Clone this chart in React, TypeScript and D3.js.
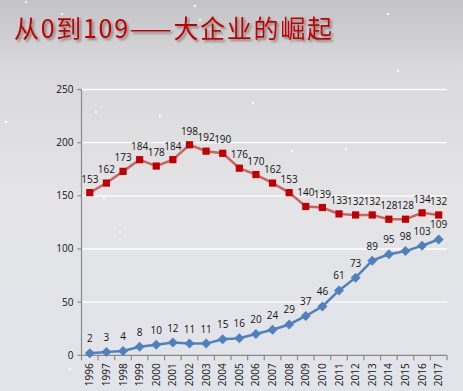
import * as d3 from "d3";

const years = [
  "1996", "1997", "1998", "1999", "2000", "2001", "2002", "2003", "2004", "2005", "2006",
  "2007", "2008", "2009", "2010", "2011", "2012", "2013", "2014", "2015", "2016", "2017",
];
const redValues = [153, 162, 173, 184, 178, 184, 198, 192, 190, 176, 170, 162, 153, 140, 139, 133, 132, 132, 128, 128, 134, 132];
const blueValues = [2, 3, 4, 8, 10, 12, 11, 11, 15, 16, 20, 24, 29, 37, 46, 61, 73, 89, 95, 98, 103, 109];
const yTicks = [0, 50, 100, 150, 200, 250];
const title = "从0到109——大企业的崛起";

// decorative snow dots
const flakes = [
  [26, 2], [62, 14], [195, 6], [200, 20], [388, 14], [398, 71], [6, 122], [96, 112], [160, 116],
  [253, 103], [346, 149], [292, 151], [365, 196], [104, 198], [120, 232], [70, 369], [300, 310],
];

export default function App() {
  const width = 463;
  const height = 391;
  const margin = { top: 89.5, right: 16, bottom: 35.7, left: 81.5 };
  const innerW = width - margin.left - margin.right;
  const innerH = height - margin.top - margin.bottom;

  const x = d3.scaleBand().domain(years).range([0, innerW]).padding(0);
  const y = d3.scaleLinear().domain([0, 250]).range([innerH, 0]);
  const cx = (d: string) => (x(d) ?? 0) + x.bandwidth() / 2;

  const line = d3
    .line<number>()
    .x((_, i) => cx(years[i]))
    .y((v) => y(v));

  const font = "'Open Sans', 'DejaVu Sans', sans-serif";

  return (
    <div>
      <style>{`body{margin:0}`}</style>
      <svg width={width} height={height} style={{ display: "block" }}>
        <defs>
          <linearGradient id="bg" x1="0" y1="0" x2="0" y2="1">
            <stop offset="0" stopColor="#c3c3c5" />
            <stop offset="0.17" stopColor="#d9d9db" />
            <stop offset="0.5" stopColor="#e4e4e6" />
            <stop offset="1" stopColor="#e2e4eb" />
          </linearGradient>
          <filter id="shadow" x="-5%" y="-20%" width="110%" height="150%">
            <feDropShadow dx="2" dy="2" stdDeviation="0.8" floodColor="#444" floodOpacity="0.55" />
          </filter>
        </defs>
        <rect width={width} height={height} fill="url(#bg)" />
        {flakes.map(([fx, fy], i) => (
          <circle key={i} cx={fx} cy={fy} r={1.2} fill="#ffffff" opacity={0.85} />
        ))}

        <text
          x={14}
          y={38}
          fontFamily="'Noto Sans CJK SC', sans-serif"
          fontSize={25}
          fill="#c00000"
          textLength={318}
          filter="url(#shadow)"
        >
          {title}
        </text>

        <g transform={`translate(${margin.left},${margin.top})`}>
          {yTicks.filter((t) => t > 0).map((t) => (
            <line key={t} x1={0} x2={innerW} y1={y(t)} y2={y(t)} stroke="#ffffff" strokeWidth={1.3} />
          ))}
          <line x1={0} x2={0} y1={0} y2={innerH} stroke="#8a8a8a" strokeWidth={1.2} />
          <line x1={0} x2={innerW} y1={innerH} y2={innerH} stroke="#8a8a8a" strokeWidth={1.2} />
          {yTicks.map((t) => (
            <g key={t} transform={`translate(0,${y(t)})`}>
              <line x1={-4} x2={0} stroke="#8a8a8a" strokeWidth={1.2} />
              <text x={-8} dy="0.35em" textAnchor="end" fontFamily={font} fontSize={10} fill="#111">
                {t}
              </text>
            </g>
          ))}
          {years.map((d) => (
            <line key={d} x1={x(d)} x2={x(d)} y1={innerH} y2={innerH + 5} stroke="#8a8a8a" strokeWidth={1.2} />
          ))}
          <line x1={innerW} x2={innerW} y1={innerH} y2={innerH + 5} stroke="#8a8a8a" strokeWidth={1.2} />
          {years.map((d) => (
            <text
              key={d}
              transform={`translate(${cx(d)},${innerH + 8}) rotate(-90)`}
              dy="0.35em"
              textAnchor="end"
              fontFamily={font}
              fontSize={10}
              fill="#111"
            >
              {d}
            </text>
          ))}

          <path d={line(redValues) ?? ""} fill="none" stroke="#c0504d" strokeOpacity={0.85} strokeWidth={2.5} />
          <path d={line(blueValues) ?? ""} fill="none" stroke="#4f81bd" strokeWidth={2.5} />

          {redValues.map((v, i) => (
            <rect key={i} x={cx(years[i]) - 3.6} y={y(v) - 3.6} width={7.2} height={7.2} fill="#c00000" />
          ))}
          {blueValues.map((v, i) => (
            <path
              key={i}
              d={`M${cx(years[i])},${y(v) - 5}L${cx(years[i]) + 5},${y(v)}L${cx(years[i])},${y(v) + 5}L${cx(years[i]) - 5},${y(v)}Z`}
              fill="#4f81bd"
            />
          ))}

          {redValues.map((v, i) => (
            <text key={i} x={cx(years[i])} y={y(v) - 10} textAnchor="middle" fontFamily={font} fontSize={10} fill="#111">
              {v}
            </text>
          ))}
          {blueValues.map((v, i) => (
            <text key={i} x={cx(years[i])} y={y(v) - 11} textAnchor="middle" fontFamily={font} fontSize={10} fill="#111">
              {v}
            </text>
          ))}
        </g>
      </svg>
    </div>
  );
}
